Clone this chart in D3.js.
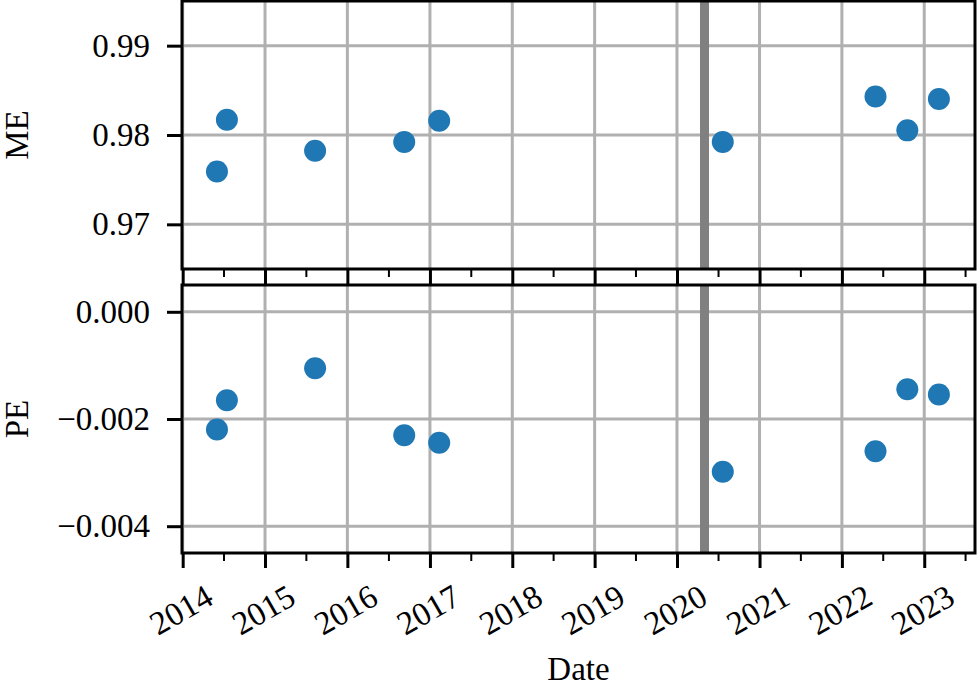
<!DOCTYPE html>
<html lang="en">
<head>
<meta charset="utf-8">
<title>ME / PE over time</title>
<script src="https://cdn.jsdelivr.net/npm/d3@7/dist/d3.min.js"></script>
<style>
  body { margin: 0; background: #fff; }
  svg text { font-family: "Liberation Serif", "DejaVu Serif", serif; fill: #000; }
</style>
</head>
<body>
<script>
const dates = ["2014-06-02", "2014-07-16", "2015-08-11", "2016-09-09", "2017-02-11",
               "2020-07-22", "2022-05-30", "2022-10-18", "2023-03-07"];
const meValues = [0.97592, 0.98171, 0.97824, 0.97922, 0.98160, 0.97922, 0.98432, 0.98052, 0.98403];
const peValues = [-0.002196, -0.001649, -0.001052, -0.002302, -0.002444, -0.002985, -0.002601, -0.001444, -0.001543];

const meTicks = [0.97, 0.98, 0.99];
const peTicks = [-0.004, -0.002, 0.000];
const yearTicks = d3.range(2014, 2024);
const band = ["2020-04-12", "2020-05-22"]; // grey marker around spring 2020

const W = 977, H = 686;
const left = 182, right = 975;
const fs = 33;
const panels = [
  { label: "ME", values: meValues, ticks: meTicks, domain: [0.965, 0.995], top: 1, bottom: 269, fmt: d3.format(".2f") },
  { label: "PE", values: peValues, ticks: peTicks, domain: [-0.0045, 0.0005], top: 285, bottom: 553, fmt: d3.format(".3f") }
];

const parse = d3.utcParse("%Y-%m-%d");
const x = d3.scaleUtc()
  .domain([new Date(Date.UTC(2013, 11, 29)), new Date(Date.UTC(2023, 7, 14))])
  .range([left, right]);

const majors = yearTicks.map(y => new Date(Date.UTC(y, 0, 1)));
const minors = yearTicks.map(y => new Date(Date.UTC(y, 6, 1)));

const svg = d3.select("body").append("svg").attr("width", W).attr("height", H);

panels.forEach(function(p, i) {
  const y = d3.scaleLinear().domain(p.domain).range([p.bottom, p.top]);
  const g = svg.append("g");

  // grid
  g.selectAll(".vgrid").data(majors).enter().append("line")
    .attr("x1", d => x(d)).attr("x2", d => x(d))
    .attr("y1", p.top).attr("y2", p.bottom)
    .attr("stroke", "#b0b0b0").attr("stroke-width", 3);
  g.selectAll(".hgrid").data(p.ticks).enter().append("line")
    .attr("x1", left).attr("x2", right)
    .attr("y1", d => y(d)).attr("y2", d => y(d))
    .attr("stroke", "#b0b0b0").attr("stroke-width", 3);

  // grey band
  g.append("rect")
    .attr("x", x(parse(band[0])))
    .attr("width", x(parse(band[1])) - x(parse(band[0])))
    .attr("y", p.top).attr("height", p.bottom - p.top)
    .attr("fill", "#808080");

  // points
  g.selectAll("circle").data(dates).enter().append("circle")
    .attr("cx", d => x(parse(d)))
    .attr("cy", (d, j) => y(p.values[j]))
    .attr("r", 11)
    .attr("fill", "#1f77b4");

  // frame
  g.append("rect")
    .attr("x", left).attr("y", p.top)
    .attr("width", right - left).attr("height", p.bottom - p.top)
    .attr("fill", "none").attr("stroke", "#000").attr("stroke-width", 3);

  // y axis
  const ya = g.append("g").attr("transform", "translate(" + left + ",0)")
    .call(d3.axisLeft(y).tickValues(p.ticks).tickFormat(p.fmt).tickSize(15).tickPadding(17));
  ya.select(".domain").remove();
  ya.selectAll(".tick line").attr("stroke-width", 3);
  ya.selectAll(".tick text").attr("font-size", fs).attr("font-family", null);

  // x axis ticks
  const xa = g.append("g").attr("transform", "translate(0," + p.bottom + ")")
    .call(d3.axisBottom(x).tickValues(majors).tickSize(15).tickFormat(i === 1 ? d3.utcFormat("%Y") : ""));
  xa.select(".domain").remove();
  xa.selectAll(".tick line").attr("stroke-width", 3);
  const xm = g.append("g").attr("transform", "translate(0," + p.bottom + ")")
    .call(d3.axisBottom(x).tickValues(minors).tickSize(8).tickFormat(""));
  xm.select(".domain").remove();
  xm.selectAll(".tick line").attr("stroke-width", 2);

  if (i === 1) {
    xa.selectAll(".tick text")
      .attr("font-size", fs).attr("font-family", null)
      .attr("y", 0).attr("dy", null)
      .attr("text-anchor", "middle")
      .attr("dominant-baseline", "central")
      .attr("transform", "translate(-2,57) rotate(-30)");
  }

  // y label
  svg.append("text")
    .attr("transform", "translate(28," + ((p.top + p.bottom) / 2) + ") rotate(-90)")
    .attr("text-anchor", "middle")
    .attr("font-size", fs)
    .text(p.label);
});

svg.append("text")
  .attr("x", (left + right) / 2).attr("y", 680)
  .attr("text-anchor", "middle")
  .attr("font-size", fs)
  .text("Date");
</script>
</body>
</html>
